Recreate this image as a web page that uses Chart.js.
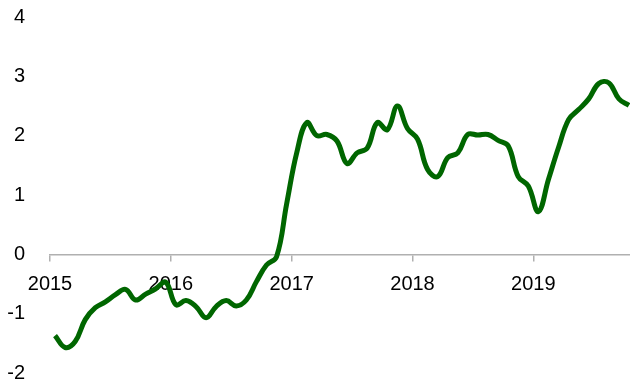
<!DOCTYPE html>
<html>
<head>
<meta charset="utf-8">
<script src="https://cdn.jsdelivr.net/npm/chart.js@4"></script>
<style>
    html, body { margin: 0; padding: 0; background: #ffffff; overflow: hidden; }
    #wrap { width: 630px; height: 385px; position: relative; }
</style>
</head>
<body>
<div id="wrap"><canvas id="chart" width="630" height="385"></canvas></div>
<script>
// monthly values, Jan 2015 .. Oct 2019
const values = [
    -1.37, -1.57, -1.47, -1.10, -0.90, -0.80, -0.68, -0.59, -0.77, -0.67, -0.58, -0.47,
    -0.85, -0.78, -0.88, -1.07, -0.88, -0.78, -0.87, -0.77, -0.46, -0.18, -0.04, 0.85,
    1.71, 2.22, 2.00, 2.02, 1.91, 1.53, 1.71, 1.79, 2.22, 2.10, 2.50, 2.12,
    1.94, 1.43, 1.31, 1.63, 1.71, 2.02, 2.01, 2.02, 1.92, 1.83, 1.31, 1.15,
    0.72, 1.26, 1.80, 2.27, 2.44, 2.62, 2.88, 2.89, 2.62, 2.51
];
const yearLabels = ['2015', '2016', '2017', '2018', '2019'];
const yTicks = [-2, -1, 0, 1, 2, 3, 4];

const points = values.map((v, i) => ({ x: i + 0.5, y: v }));
const font = { family: "'Liberation Sans', Arial, sans-serif", size: 20 };

new Chart(document.getElementById('chart').getContext('2d'), {
    type: 'line',
    data: {
        datasets: [{
            data: points,
            borderColor: '#006600',
            borderWidth: 5,
            tension: 0.4,
            pointRadius: 0,
            fill: false,
        }],
    },
    options: {
        responsive: false,
        animation: false,
        layout: { padding: { top: 17, right: 0, bottom: 12, left: 0 } },
        plugins: {
            legend: { display: false },
            tooltip: { enabled: false },
        },
        scales: {
            x: {
                type: 'linear',
                position: { y: 0 },
                min: 0,
                max: 57.6,
                afterFit: scale => { scale.height = 0; },
                afterBuildTicks: scale => {
                    scale.ticks = yearLabels.map((_, i) => ({ value: i * 12 }));
                },
                ticks: {
                    autoSkip: false,
                    maxRotation: 0,
                    padding: 12,
                    color: '#000000',
                    font,
                    callback: value => yearLabels[Math.round(value / 12)],
                },
                grid: {
                    drawOnChartArea: false,
                    drawTicks: true,
                    tickLength: 6,
                    color: '#b0b0b0',
                    lineWidth: 1.5,
                },
                border: { display: true, color: '#b0b0b0', width: 1.5 },
            },
            y: {
                min: -2,
                max: 4,
                afterFit: scale => {
                    scale.width = 50;
                    // labels may overflow the plot edges, as in the original
                    scale.paddingTop = 0;
                    scale.paddingBottom = 0;
                },
                afterBuildTicks: scale => {
                    scale.ticks = yTicks.map(v => ({ value: v }));
                },
                ticks: {
                    padding: 25,
                    color: '#000000',
                    font,
                },
                grid: { display: false, drawTicks: false },
                border: { display: false },
            },
        },
    },
});
</script>
</body>
</html>
